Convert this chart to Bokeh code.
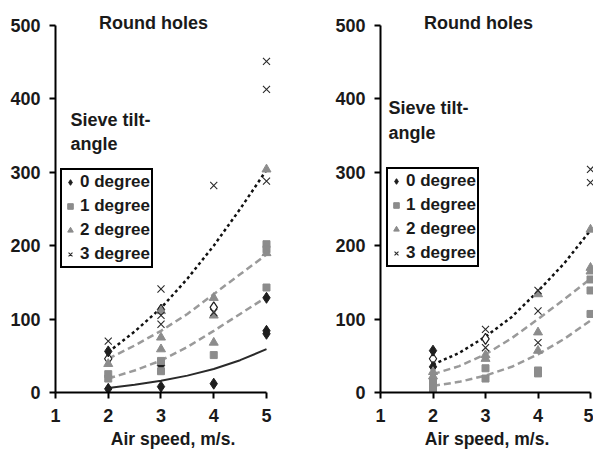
from bokeh.plotting import figure
from bokeh.layouts import row
from bokeh.models import Range1d, Label, Legend, LegendItem
from bokeh.embed import file_html
from bokeh.resources import INLINE

FONT = "Liberation Sans"
TXT = "#1a1a1a"
GRAY = "#8c8c8c"
DARK = "#1e1e1e"

# ---------------- data ----------------
x_ticks = [1, 2, 3, 4, 5]
y_ticks = [0, 100, 200, 300, 400, 500]
legend_labels = ["0 degree", "1 degree", "2 degree", "3 degree"]

# left panel
L_x0 = [2, 2, 3, 3, 3, 4, 5, 5, 5]
L_y0 = [56, 5, 113, 37, 8, 12, 129, 84, 80]
L_x1 = [2, 2, 3, 3, 4, 5, 5, 5]
L_y1 = [25, 19, 43, 29, 51, 202, 195, 143]
L_x2 = [2, 3, 3, 3, 4, 4, 4, 5, 5]
L_y2 = [39, 111, 75, 59, 129, 105, 68, 304, 190]
L_x3 = [2, 3, 3, 3, 4, 4, 5, 5, 5]
L_y3 = [70, 141, 105, 93, 282, 109, 451, 413, 288]
L_xh = [2, 4]
L_yh = [46, 116]

# right panel
R_x0 = [2, 2]
R_y0 = [57, 35]
R_x1 = [2, 2, 2, 3, 3, 4, 4, 5, 5, 5]
R_y1 = [16, 10, 5, 33, 19, 30, 26, 154, 139, 107]
R_x2 = [2, 2, 3, 3, 4, 4, 4, 5, 5, 5]
R_y2 = [28, 22, 51, 46, 134, 82, 57, 222, 170, 165]
R_x3 = [3, 3, 4, 4, 4, 5, 5]
R_y3 = [86, 61, 139, 111, 68, 304, 286]
R_xh = [2, 3]
R_yh = [46, 73]

# trend curves read at these speeds
trend_x = [2, 2.5, 3, 3.5, 4, 4.5, 5]
L_dotted = [55, 83, 115, 155, 200, 250, 303]
L_dash_hi = [46, 64, 84, 107, 134, 161, 188]
L_dash_lo = [19, 30, 43.5, 62, 84, 107, 130]
L_solid = [6, 10.5, 16, 23, 32, 44, 59]

R_dotted = [38, 54, 76, 103, 138, 176, 221]
R_dash_hi = [25, 36, 52, 74, 100, 127, 155]
R_dash_lo = [9, 14.5, 23, 35, 52, 73, 98]


def panel(width, b_left, b_right, x_end, pts, trends, leg_loc, head_x, head_y, title_x):
    p = figure(width=width, height=461, output_backend="svg", toolbar_location=None,
               x_range=Range1d(1, x_end), y_range=Range1d(0, 527.2),
               min_border_left=b_left, min_border_right=b_right,
               min_border_top=5, min_border_bottom=69)
    p.outline_line_color = None
    p.xgrid.visible = False
    p.ygrid.visible = False
    p.background_fill_color = "white"

    for ax in (p.xaxis[0], p.yaxis[0]):
        ax.axis_line_width = 2
        ax.axis_line_color = "black"
        ax.major_tick_line_width = 2
        ax.major_tick_line_color = "black"
        ax.major_tick_out = 6
        ax.major_tick_in = 0
        ax.minor_tick_line_color = None
        ax.major_label_text_font = FONT
        ax.major_label_text_font_style = "bold"
        ax.major_label_text_font_size = "18px"
        ax.major_label_text_color = TXT
    p.xaxis.ticker = x_ticks
    p.yaxis.ticker = y_ticks
    p.xaxis.bounds = (1, 5)
    p.yaxis.bounds = (0, 500)
    p.xaxis.major_label_standoff = 10
    p.yaxis.major_label_standoff = 9
    p.xaxis.axis_label = "Air speed, m/s."
    p.xaxis.axis_label_text_font = FONT
    p.xaxis.axis_label_text_font_style = "bold"
    p.xaxis.axis_label_text_font_size = "17.5px"
    p.xaxis.axis_label_text_color = TXT
    p.xaxis.axis_label_standoff = 4

    # trend curves
    for ys, color, dash, w in trends:
        p.line(trend_x, ys, line_color=color, line_dash=dash, line_width=w)

    (x0, y0), (x1, y1), (x2, y2), (x3, y3), (xh, yh) = pts
    p.scatter(xh, yh, marker="diamond", size=11, fill_color="white",
              line_color=DARK, line_width=1.2)
    r0 = p.scatter(x0, y0, marker="diamond", size=11, fill_color=DARK, line_color=DARK)
    r1 = p.scatter(x1, y1, marker="square", size=7, fill_color=GRAY, line_color=GRAY)
    r2 = p.scatter(x2, y2, marker="triangle", size=9, fill_color=GRAY, line_color=GRAY)
    r3 = p.scatter(x3, y3, marker="x", size=10, line_color="#2a2a2a", line_width=1.1)

    leg = Legend(items=[LegendItem(label=lab, renderers=[r])
                        for lab, r in zip(legend_labels, [r0, r1, r2, r3])],
                 location=leg_loc, orientation="vertical")
    leg.border_line_color = "black"
    leg.border_line_alpha = 1
    leg.border_line_width = 2
    leg.background_fill_color = "white"
    leg.background_fill_alpha = 1
    leg.padding = 1
    leg.spacing = 2
    leg.margin = 0
    leg.glyph_width = 14
    leg.glyph_height = 22
    leg.label_height = 22
    leg.label_standoff = 3
    leg.label_text_font = FONT
    leg.label_text_font_style = "bold"
    leg.label_text_font_size = "17px"
    leg.label_text_color = TXT
    p.add_layout(leg)

    for txt, yy in zip(["Sieve tilt-", "angle"], head_y):
        p.add_layout(Label(x=head_x, y=yy, text=txt, text_font=FONT,
                           text_font_style="bold", text_font_size="18px",
                           text_color=TXT, text_baseline="middle", text_align="left"))
    p.add_layout(Label(x=title_x, y=504, text="Round holes", text_font=FONT,
                       text_font_style="bold", text_font_size="18px",
                       text_color=TXT, text_baseline="middle", text_align="center"))
    return p


left = panel(320, 55, 30, 5.455,
             [(L_x0, L_y0), (L_x1, L_y1), (L_x2, L_y2), (L_x3, L_y3), (L_xh, L_yh)],
             [(L_solid, "#2a2a2a", "solid", 2),
              (L_dash_lo, "#9a9a9a", "7 4", 2.5),
              (L_dash_hi, "#9a9a9a", "7 4", 2.5),
              (L_dotted, "#111111", "3 3", 2.5)],
             (5, 124), 1.284, [370.6, 339.2], 2.858)

right = panel(273, 60, 0, 5.057,
              [(R_x0, R_y0), (R_x1, R_y1), (R_x2, R_y2), (R_x3, R_y3), (R_xh, R_yh)],
              [(R_dash_lo, "#9a9a9a", "7 4", 2.5),
               (R_dash_hi, "#9a9a9a", "7 4", 2.5),
               (R_dotted, "#111111", "3 3", 2.5)],
              (6, 125), 1.152, [387, 354], 2.867)

layout = row(left, right)
open("out.html", "w").write(file_html(layout, INLINE))
